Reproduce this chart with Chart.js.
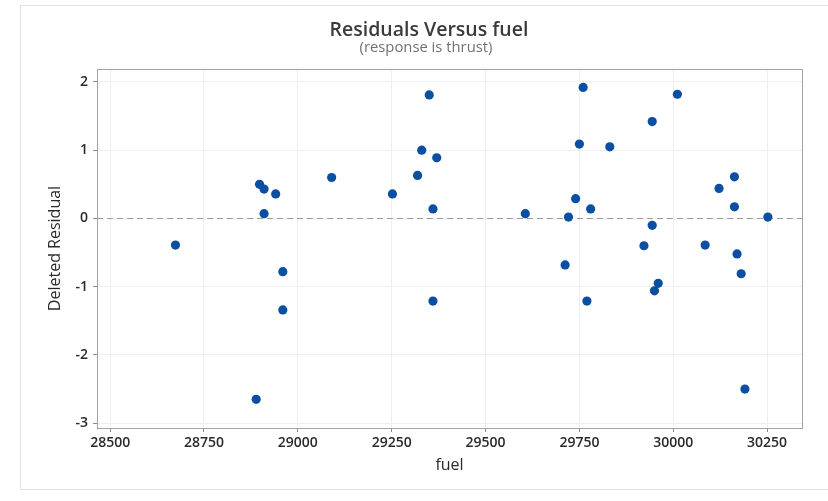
<!DOCTYPE html>
<html>
<head>
<meta charset="utf-8">
<script src="https://cdn.jsdelivr.net/npm/chart.js@4"></script>
<style>
  html, body { margin: 0; padding: 0; background: #ffffff; }
  #wrap { position: relative; width: 828px; height: 501px; }
</style>
</head>
<body>
<div id="wrap"><canvas id="c" width="828" height="501"></canvas></div>
<script>
// ---- Data ----
const chartTitle = 'Residuals Versus fuel';
const chartSubtitle = '(response is thrust)';
const xAxisTitle = 'fuel';
const yAxisTitle = 'Deleted Residual';

const fuel = [
  28674, 28898, 28910, 28941, 28910, 28960, 28960, 28889,
  29090, 29252, 29319, 29330, 29350, 29370, 29360, 29360, 29606,
  29760, 29750, 29831, 29944, 29740, 29780, 29721, 29944, 29922, 29712, 29960, 29950, 29770,
  30011, 30163, 30122, 30163, 30252, 30085, 30170, 30181, 30191
];
const deletedResidual = [
  -0.39, 0.50, 0.43, 0.36, 0.07, -0.78, -1.34, -2.65,
  0.60, 0.36, 0.63, 1.00, 1.81, 0.89, 0.14, -1.21, 0.07,
  1.92, 1.09, 1.05, 1.42, 0.29, 0.14, 0.02, -0.10, -0.40, -0.68, -0.95, -1.06, -1.21,
  1.82, 0.61, 0.44, 0.17, 0.02, -0.39, -0.52, -0.81, -2.50
];
const xTicks = [28500, 28750, 29000, 29250, 29500, 29750, 30000, 30250];
const yTicks = [-3, -2, -1, 0, 1, 2];
const referenceLineValue = 0;

const points = fuel.map((v, i) => ({ x: v, y: deletedResidual[i] }));

const FONT = "'Open Sans', 'Noto Sans', sans-serif";

const decorPlugin = {
  id: 'decor',
  beforeDraw(chart) {
    const ctx = chart.ctx;
    ctx.save();
    ctx.fillStyle = '#ffffff';
    ctx.fillRect(0, 0, chart.width, chart.height);
    ctx.strokeStyle = '#e3e3e3';
    ctx.lineWidth = 1;
    ctx.strokeRect(20.5, 5.5, 830, 484);
    ctx.restore();
  },
  beforeDatasetsDraw(chart) {
    const ctx = chart.ctx;
    const a = chart.chartArea;
    const y = Math.round(chart.scales.y.getPixelForValue(referenceLineValue)) + 0.5;
    ctx.save();
    ctx.strokeStyle = '#9a9a9a';
    ctx.lineWidth = 1;
    ctx.setLineDash([6, 4]);
    ctx.beginPath();
    ctx.moveTo(a.left, y);
    ctx.lineTo(a.right, y);
    ctx.stroke();
    ctx.restore();
  },
  afterDraw(chart) {
    const ctx = chart.ctx;
    const a = chart.chartArea;
    ctx.save();
    ctx.strokeStyle = '#a3a3a3';
    ctx.lineWidth = 1;
    ctx.strokeRect(Math.round(a.left) + 0.5, Math.round(a.top) + 0.5,
                   Math.round(a.right - a.left), Math.round(a.bottom - a.top));
    ctx.textAlign = 'center';
    ctx.textBaseline = 'middle';
    ctx.fillStyle = '#3a3a3a';
    ctx.font = "600 19.5px " + FONT;
    ctx.fillText(chartTitle, 429, 30);
    ctx.fillStyle = '#707070';
    ctx.font = "400 14.8px " + FONT;
    ctx.fillText(chartSubtitle, 426, 47.5);
    ctx.restore();
  }
};

new Chart(document.getElementById('c'), {
  type: 'scatter',
  data: {
    datasets: [{
      label: yAxisTitle,
      data: points,
      backgroundColor: '#0b4fa3',
      borderColor: '#0b4fa3',
      pointRadius: 4.6,
      pointHoverRadius: 4.6,
      borderWidth: 0
    }]
  },
  options: {
    responsive: false,
    animation: false,
    devicePixelRatio: 1,
    layout: { padding: { left: 0, right: 26, top: 69, bottom: 0 } },
    plugins: {
      legend: { display: false },
      tooltip: { enabled: false },
      title: { display: false },
      subtitle: { display: false }
    },
    scales: {
      x: {
        type: 'linear',
        min: 28465,
        max: 30343,
        afterBuildTicks: (s) => { s.ticks = xTicks.map(v => ({ value: v })); },
        afterFit: (s) => { s.height = 73; },
        ticks: {
          callback: (v) => String(v),
          color: '#2a2a2a',
          font: { family: FONT, size: 14, weight: '600' },
          padding: 3,
          maxRotation: 0,
          autoSkip: false
        },
        grid: { color: '#efefef', lineWidth: 1, tickColor: '#8a8a8a', tickLength: 4 },
        border: { display: false },
        title: {
          display: true,
          text: xAxisTitle,
          color: '#2a2a2a',
          font: { family: FONT, size: 16 },
          padding: { top: 0, bottom: 26 }
        }
      },
      y: {
        type: 'linear',
        min: -3.07,
        max: 2.19,
        afterBuildTicks: (s) => { s.ticks = yTicks.map(v => ({ value: v })); },
        afterFit: (s) => { s.width = 97; },
        ticks: {
          callback: (v) => String(v),
          color: '#2a2a2a',
          font: { family: FONT, size: 14, weight: '600' },
          padding: 5
        },
        grid: {
          color: (c) => (c.tick && c.tick.value === referenceLineValue) ? 'rgba(0,0,0,0)' : '#efefef',
          lineWidth: 1, tickColor: '#8a8a8a', tickLength: 4
        },
        border: { display: false },
        title: {
          display: true,
          text: yAxisTitle,
          color: '#2a2a2a',
          font: { family: FONT, size: 16 },
          padding: { top: 46, bottom: 0 }
        }
      }
    }
  },
  plugins: [decorPlugin]
});
</script>
</body>
</html>
